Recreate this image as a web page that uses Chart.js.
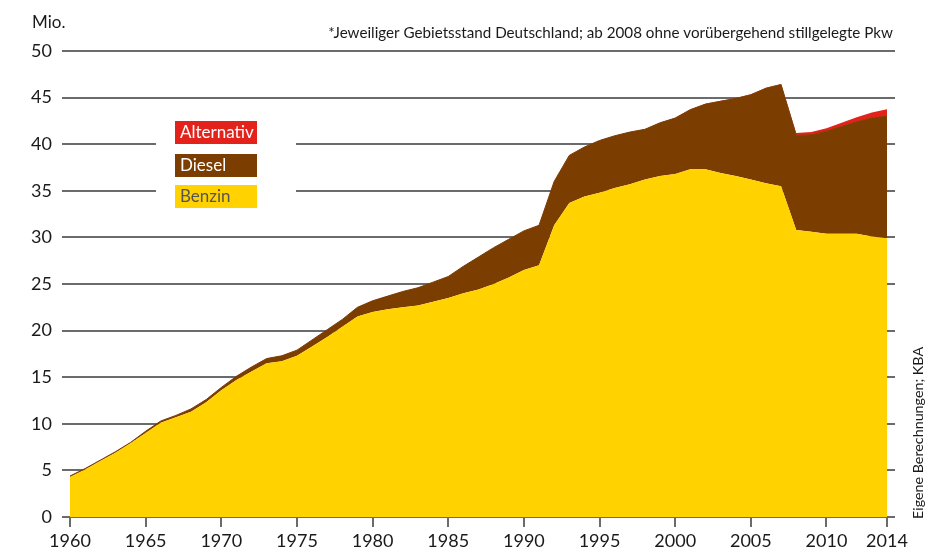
<!DOCTYPE html>
<html>
<head>
<meta charset="utf-8">
<script src="https://cdn.jsdelivr.net/npm/chart.js@4.4.1/dist/chart.umd.min.js"></script>
<style>
  html, body { margin: 0; padding: 0; background: #fff; }
  #wrap { width: 929px; height: 552px; }
</style>
</head>
<body>
<div id="wrap"><canvas id="pkw"></canvas></div>
<script>
// Pkw-Bestand in Mio., 1960-2014
var years = [1960,1961,1962,1963,1964,1965,1966,1967,1968,1969,
             1970,1971,1972,1973,1974,1975,1976,1977,1978,1979,
             1980,1981,1982,1983,1984,1985,1986,1987,1988,1989,
             1990,1991,1992,1993,1994,1995,1996,1997,1998,1999,
             2000,2001,2002,2003,2004,2005,2006,2007,2008,2009,
             2010,2011,2012,2013,2014];

var benzin = [4.3,5.1,6.0,6.9,7.9,9.0,10.1,10.7,11.3,12.3,
              13.6,14.7,15.6,16.5,16.7,17.3,18.3,19.3,20.4,21.5,
              22.0,22.3,22.5,22.7,23.1,23.5,24.0,24.4,25.0,25.7,
              26.5,27.0,31.3,33.7,34.4,34.8,35.3,35.7,36.2,36.6,
              36.8,37.3,37.3,36.9,36.6,36.2,35.8,35.5,30.8,30.6,
              30.4,30.4,30.4,30.1,29.9];

var diesel = [0.1,0.1,0.1,0.1,0.1,0.2,0.2,0.2,0.3,0.3,
              0.3,0.4,0.5,0.5,0.6,0.6,0.7,0.8,0.8,1.0,
              1.2,1.4,1.7,1.9,2.1,2.3,2.9,3.5,3.9,4.1,
              4.2,4.3,4.7,5.1,5.3,5.6,5.6,5.6,5.4,5.7,
              6.0,6.4,7.0,7.7,8.3,9.1,10.2,10.9,10.15,10.4,
              11.0,11.5,12.0,12.7,13.1];

var alternativ = [0,0,0,0,0,0,0,0,0,0,
                  0,0,0,0,0,0,0,0,0,0,
                  0,0,0,0,0,0,0,0,0,0,
                  0,0,0,0,0,0,0,0,0,0,
                  0.05,0.05,0.05,0.05,0.05,0.05,0.05,0.05,0.25,0.3,
                  0.3,0.4,0.5,0.6,0.75];

var yTicks = [0,5,10,15,20,25,30,35,40,45,50];

var FONT = 'Lato, "Open Sans", sans-serif';
var GRID = '#6b6b6b';

// Legende, Hinweise, Quellenangabe
var extras = {
  id: 'extras',
  beforeDatasetsDraw: function(chart) {
    var c = chart.ctx;
    c.save();
    c.fillStyle = '#fff';
    c.fillRect(156, 110, 140, 108);
    var ds = chart.data.datasets.slice().reverse();
    var ys = [121, 154, 185];
    c.font = '17px ' + FONT;
    c.textBaseline = 'middle';
    c.textAlign = 'left';
    for (var i = 0; i < ds.length; i++) {
      c.fillStyle = ds[i].backgroundColor;
      c.fillRect(175, ys[i], 82, 23);
      c.fillStyle = i < 2 ? '#fff' : '#555';
      c.fillText(ds[i].label, 180, ys[i] + 12);
    }
    c.restore();
  },
  afterDraw: function(chart) {
    var c = chart.ctx;
    c.save();
    c.fillStyle = '#1a1a1a';
    c.textBaseline = 'middle';
    c.font = '17px ' + FONT;
    c.textAlign = 'left';
    c.fillText('Mio.', 32, 23);
    c.font = '15.2px ' + FONT;
    c.textAlign = 'right';
    c.fillText('*Jeweiliger Gebietsstand Deutschland; ab 2008 ohne vorübergehend stillgelegte Pkw', 893, 33);
    c.translate(918, 519);
    c.rotate(-Math.PI / 2);
    c.textAlign = 'left';
    c.font = '14.3px ' + FONT;
    c.fillText('Eigene Berechnungen; KBA', 0, 0);
    c.restore();
  }
};

var ctx = document.getElementById('pkw').getContext('2d');
var chart = new Chart(ctx, {
  type: 'line',
  data: {
    labels: years,
    datasets: [{
      label: 'Benzin',
      data: benzin,
      backgroundColor: '#FFD200',
      borderColor: '#FFD200',
      borderWidth: 0,
      fill: 'origin'
    }, {
      label: 'Diesel',
      data: diesel,
      backgroundColor: '#7B3D00',
      borderColor: '#7B3D00',
      borderWidth: 1,
      fill: '-1'
    }, {
      label: 'Alternativ',
      data: alternativ,
      backgroundColor: '#E3231B',
      borderColor: '#E3231B',
      borderWidth: 0,
      fill: '-1'
    }]
  },
  options: {
    responsive: true,
    maintainAspectRatio: false,
    animation: false,
    elements: { point: { radius: 0 }, line: { tension: 0 } },
    layout: { padding: { top: 51, left: 0, right: 0, bottom: 0 } },
    plugins: { legend: { display: false }, tooltip: { enabled: false } },
    scales: {
      x: {
        type: 'category',
        offset: false,
        grid: { drawOnChartArea: false, color: GRID, lineWidth: 2, tickLength: 10 },
        border: { display: false },
        ticks: {
          autoSkip: false,
          maxRotation: 0,
          padding: 3,
          color: '#1a1a1a',
          font: { family: FONT, size: 18 },
          callback: function(val) {
            var y = this.getLabelForValue(val);
            return (y % 5 === 0 || y === 2014) ? String(y) : null;
          }
        },
        afterFit: function(s) { s.height = 35; }
      },
      y: {
        stacked: true,
        min: 0,
        max: 50,
        grid: { color: GRID, lineWidth: 2, tickLength: 8 },
        border: { display: false },
        ticks: {
          padding: 10,
          color: '#1a1a1a',
          font: { family: FONT, size: 18 }
        },
        afterBuildTicks: function(s) { s.ticks = yTicks.map(function(v) { return { value: v }; }); },
        afterFit: function(s) { s.width = 70; }
      },
      y2: {
        position: 'right',
        min: 0,
        max: 50,
        grid: { drawOnChartArea: false, color: GRID, lineWidth: 2, tickLength: 8 },
        border: { display: false },
        ticks: { display: false },
        afterBuildTicks: function(s) { s.ticks = yTicks.map(function(v) { return { value: v }; }); },
        afterFit: function(s) { s.width = 42; }
      }
    }
  },
  plugins: [extras]
});
</script>
</body>
</html>
